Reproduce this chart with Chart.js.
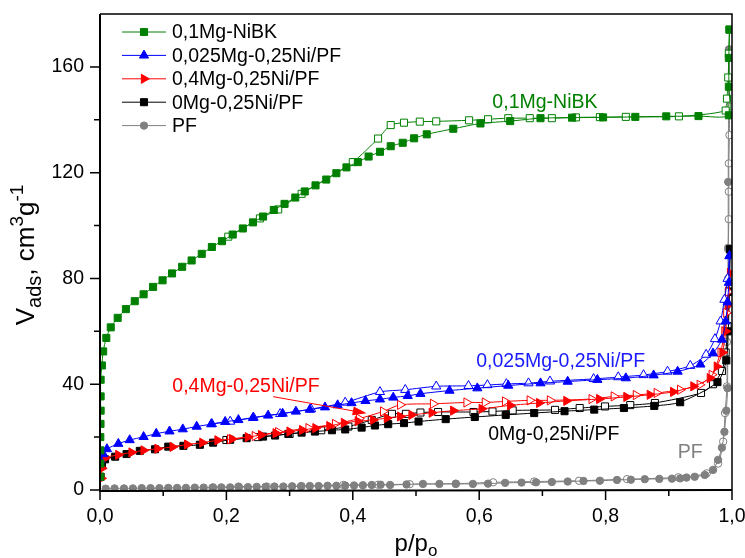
<!DOCTYPE html>
<html>
<head>
<meta charset="utf-8">
<script src="https://cdn.jsdelivr.net/npm/chart.js"></script>
<style>
  html, body { margin: 0; padding: 0; background: #fff; }
</style>
</head>
<body>
<canvas id="c" width="745" height="558"></canvas>
<script>
// Isotherm data (p/p0, V ads cm3/g) – filled = adsorption, open = desorption
const nibkAdsP = [0.0005,0.0005,0.0005,0.0005,0.0008,0.001,0.001,0.001,0.003,0.005,0.010,0.017,0.028,0.041,0.055,0.069,0.084,0.099,0.114,0.130,0.145,0.161,0.177,0.193,0.210,0.226,0.242,0.258,0.275,0.292,0.309,0.324,0.341,0.358,0.374,0.390,0.408,0.425,0.443,0.460,0.479,0.497,0.517,0.559,0.602,0.649,0.697,0.747,0.796,0.847,0.896,0.947,0.995,0.995,0.995,0.996];
const nibkAdsV = [5,10,15,20,25,30,35.4,41.7,47.1,52.4,57.5,61.5,65.1,68.4,71.4,74.0,76.8,79.3,81.9,84.4,86.8,89.3,91.9,94.1,96.6,98.9,101.2,103.4,105.9,108.2,110.6,112.9,115.2,117.4,119.8,122.0,124.0,126.1,127.9,130.0,131.3,133.0,134.5,136.6,138.6,139.5,140.6,140.8,140.9,141.1,141.3,141.4,141.7,152.5,163.4,174.1];
const nibkDesP = [0.996,0.995,0.994,0.992,0.990,0.916,0.832,0.791,0.753,0.715,0.680,0.646,0.614,0.584,0.532,0.506,0.481,0.460,0.440,0.400,0.319,0.282,0.253,0.203];
const nibkDesV = [174.1,165,156,148,143.5,141.3,141.1,141.0,140.9,140.6,140.6,140.6,140.2,139.8,139.4,139.3,138.9,138.0,132.9,124.0,112.0,106.1,102.7,95.8];

const c025AdsP = [0.000,0.005,0.011,0.029,0.047,0.069,0.089,0.110,0.131,0.153,0.176,0.198,0.219,0.242,0.266,0.289,0.310,0.332,0.356,0.376,0.398,0.420,0.443,0.464,0.487,0.507,0.553,0.597,0.646,0.697,0.740,0.787,0.832,0.876,0.914,0.950,0.970,0.984,0.990,0.993,0.995,0.996];
const c025AdsV = [11.4,13.6,15.5,17.5,18.9,20.1,21.3,22.2,23.0,24.0,24.9,25.8,26.5,27.3,28.2,28.9,29.7,30.4,31.3,32.1,32.9,33.7,34.3,35.0,35.6,36.4,37.6,38.5,39.5,40.4,41.0,41.7,42.3,43.4,44.8,47.5,51.7,56.9,63.8,71.0,78.4,88.5];
const c025DesP = [0.996,0.993,0.988,0.982,0.973,0.959,0.934,0.898,0.860,0.820,0.781,0.712,0.678,0.643,0.613,0.583,0.532,0.483,0.443,0.388,0.334,0.285,0.243,0.206,0.177];
const c025DesV = [88.5,79.9,72.0,63.8,57.1,51.2,47.0,44.8,43.5,42.7,42.0,41.1,40.4,40.1,39.7,39.4,39.2,37.9,37.1,33.1,30.6,28.8,27.4,25.9,25.0];

const c4AdsP = [0.002,0.003,0.008,0.029,0.050,0.069,0.091,0.115,0.138,0.162,0.186,0.209,0.234,0.255,0.278,0.300,0.320,0.341,0.363,0.386,0.408,0.432,0.454,0.475,0.493,0.525,0.559,0.604,0.649,0.695,0.738,0.790,0.833,0.870,0.907,0.939,0.965,0.976,0.985,0.990,0.994,0.997];
const c4AdsV = [4.4,8.2,12.0,13.3,14.2,15.0,15.6,16.3,17.2,17.9,18.8,19.3,20.0,20.8,21.5,22.1,22.7,23.4,24.2,25.4,26.0,26.5,27.2,27.8,28.4,29.2,30.0,30.7,32.0,32.9,33.7,34.4,35.2,36.0,37.1,39.2,42.3,46.7,52.0,60.0,70.0,82.0];
const c4DesP = [0.997,0.994,0.991,0.988,0.982,0.968,0.949,0.918,0.881,0.848,0.813,0.778,0.712,0.680,0.641,0.609,0.580,0.527,0.475,0.448,0.410,0.372,0.330,0.282,0.245,0.206];
const c4DesV = [82.0,75.0,67.0,60.0,52.0,43.6,39.8,37.9,36.7,35.9,35.4,34.4,33.9,33.9,33.5,33.1,33.1,32.6,32.2,29.7,27.0,25.0,23.4,21.9,20.4,19.2];

const c0AdsP = [0.001,0.003,0.008,0.024,0.042,0.063,0.087,0.108,0.132,0.158,0.179,0.206,0.232,0.258,0.277,0.298,0.319,0.340,0.367,0.388,0.414,0.435,0.456,0.481,0.504,0.547,0.593,0.642,0.687,0.735,0.782,0.829,0.877,0.918,0.977,0.991,0.994,0.996,0.997];
const c0AdsV = [5.0,9.5,11.6,12.6,13.6,14.8,15.4,16.4,16.7,17.1,17.9,19.0,19.6,20.2,20.6,21.2,21.7,22.1,22.6,22.9,23.6,24.4,24.9,25.3,25.9,26.8,27.6,28.4,29.1,29.8,30.4,31.0,31.8,33.2,40.8,49.0,60.0,75.0,91.0];
const c0DesP = [0.997,0.995,0.993,0.990,0.984,0.970,0.951,0.878,0.839,0.799,0.759,0.720,0.653,0.621,0.591,0.535,0.507,0.484,0.462,0.430,0.393,0.350,0.300,0.250,0.200];
const c0DesV = [91.0,75.0,62.0,52.0,45.0,40.0,36.7,32.9,32.1,31.6,31.0,30.3,30.1,29.7,29.5,29.5,29.3,28.8,28.8,26.5,24.0,22.6,21.2,20.0,18.9];

const pfAdsP = [0.009,0.023,0.038,0.052,0.066,0.080,0.094,0.108,0.122,0.136,0.150,0.164,0.178,0.192,0.206,0.220,0.234,0.248,0.262,0.276,0.290,0.304,0.318,0.332,0.346,0.360,0.374,0.388,0.402,0.416,0.430,0.444,0.459,0.485,0.511,0.537,0.563,0.590,0.614,0.641,0.667,0.690,0.715,0.740,0.765,0.791,0.818,0.840,0.862,0.885,0.905,0.918,0.928,0.941,0.957,0.970,0.978,0.984,0.988,0.991,0.993,0.993,0.994,0.994,0.995];
const pfAdsV = [0.5,0.6,0.6,0.6,0.7,0.7,0.7,0.8,0.8,0.8,0.9,0.9,0.9,1.0,1.0,1.1,1.1,1.2,1.2,1.3,1.3,1.4,1.4,1.5,1.5,1.6,1.6,1.7,1.7,1.8,1.9,2.0,1.9,2.1,2.3,2.3,2.3,2.3,2.4,2.7,2.8,2.9,3.0,3.2,3.4,3.5,3.8,3.9,4.1,4.2,4.3,4.4,4.7,5.0,5.7,7.6,11.4,16.0,22.0,30.0,38.5,60.0,91.6,116.5,166.6];
const pfDesP = [0.996,0.996,0.996,0.996,0.995,0.995,0.995,0.994,0.994,0.993,0.992,0.992,0.989,0.986,0.978,0.960,0.915,0.834,0.758,0.687,0.622,0.563,0.490,0.440,0.385,0.319,0.264,0.219,0.179];
const pfDesV = [166.6,155.7,145.0,134.2,123.5,112.8,102.4,91.0,80.0,70.0,56.0,39.2,29.1,18.3,10.0,6.3,4.8,4.1,3.5,3.2,2.9,2.4,2.2,2.0,1.9,1.5,1.3,1.3,1.0];

const seriesNames = ['0,1Mg-NiBK', '0,025Mg-0,25Ni/PF', '0,4Mg-0,25Ni/PF', '0Mg-0,25Ni/PF', 'PF'];
const xTicks = [0, 0.2, 0.4, 0.6, 0.8, 1.0];
const xMinor = [0.1, 0.3, 0.5, 0.7, 0.9];
const yTicks = [0, 40, 80, 120, 160];
const yMinor = [20, 60, 100, 140];

const FONT = '"Liberation Sans", Arial, sans-serif';
const pts = (xs, ys) => xs.map((v, i) => ({ x: v, y: ys[i] }));

// marker looks per series
const looks = [
  { color: '#008000', style: 'rect', radius: 5, rot: 0 },
  { color: '#0000ff', style: 'triangle', radius: 5.3, rot: 0 },
  { color: '#ff0000', style: 'triangle', radius: 5.3, rot: 90 },
  { color: '#000000', style: 'rect', radius: 5, rot: 0 },
  { color: '#808080', style: 'circle', radius: 3.7, rot: 0 }
];

function ds(i, data, open) {
  const lk = looks[i];
  return {
    label: seriesNames[i] + (open ? ' des' : ''),
    data,
    borderColor: lk.color,
    borderWidth: 1,
    backgroundColor: open ? '#ffffff' : lk.color,
    pointBackgroundColor: open ? '#ffffff' : lk.color,
    pointBorderColor: lk.color,
    pointBorderWidth: 1,
    pointStyle: lk.style,
    pointRotation: lk.rot,
    pointRadius: lk.radius,
    pointHoverRadius: lk.radius,
    tension: 0.25,
    fill: false
  };
}

const datasets = [
  ds(0, pts(nibkAdsP, nibkAdsV), false),
  ds(0, pts(nibkDesP, nibkDesV), true),
  ds(1, pts(c025AdsP, c025AdsV), false),
  ds(1, pts(c025DesP, c025DesV), true),
  ds(2, pts(c4AdsP, c4AdsV), false),
  ds(2, pts(c4DesP, c4DesV), true),
  ds(3, pts(c0AdsP, c0AdsV), false),
  ds(3, pts(c0DesP, c0DesV), true),
  ds(4, pts(pfAdsP, pfAdsV), false),
  ds(4, pts(pfDesP, pfDesV), true)
];

function runs(ctx, parts) {
  let w = 0;
  parts.forEach(p => { ctx.font = p.size + 'px ' + FONT; p.w = ctx.measureText(p.t).width; w += p.w; });
  return w;
}
function drawRuns(ctx, parts, x, y) {
  let cx = x;
  parts.forEach(p => { ctx.font = p.size + 'px ' + FONT; ctx.fillText(p.t, cx, y + (p.dy || 0)); cx += p.w; });
}

const decor = {
  id: 'decor',
  afterDraw(chart) {
    const { ctx, chartArea: a, scales: { x, y } } = chart;
    ctx.save();
    ctx.strokeStyle = '#000';
    ctx.fillStyle = '#000';

    // frame
    ctx.lineWidth = 1.5;
    ctx.beginPath(); ctx.moveTo(a.left, a.top); ctx.lineTo(a.right, a.top); ctx.lineTo(a.right, a.bottom); ctx.stroke();
    ctx.lineWidth = 2;
    ctx.beginPath(); ctx.moveTo(a.left, a.top); ctx.lineTo(a.left, a.bottom + 1); ctx.lineTo(a.right, a.bottom); ctx.stroke();

    // ticks
    ctx.lineWidth = 1.5;
    ctx.beginPath();
    xTicks.forEach(v => { const px = x.getPixelForValue(v); ctx.moveTo(px, a.bottom); ctx.lineTo(px, a.bottom + 10); });
    xMinor.forEach(v => { const px = x.getPixelForValue(v); ctx.moveTo(px, a.bottom); ctx.lineTo(px, a.bottom + 6); });
    yTicks.forEach(v => { const py = y.getPixelForValue(v); ctx.moveTo(a.left, py); ctx.lineTo(a.left - 10, py); });
    yMinor.forEach(v => { const py = y.getPixelForValue(v); ctx.moveTo(a.left, py); ctx.lineTo(a.left - 6, py); });
    ctx.stroke();

    ctx.font = '19.5px ' + FONT;
    ctx.textBaseline = 'middle';
    ctx.textAlign = 'center';
    xTicks.forEach(v => ctx.fillText(v.toFixed(1).replace('.', ','), x.getPixelForValue(v), a.bottom + 27));
    ctx.textAlign = 'right';
    yTicks.forEach(v => ctx.fillText(String(v), a.left - 16, y.getPixelForValue(v)));

    // axis titles
    ctx.textAlign = 'left';
    ctx.textBaseline = 'alphabetic';
    const xt = [{ t: 'p/p', size: 24 }, { t: 'o', size: 17, dy: 5 }];
    const xw = runs(ctx, xt);
    drawRuns(ctx, xt, (a.left + a.right) / 2 - xw / 2, 551);

    const yt = [{ t: 'V', size: 26 }, { t: 'ads', size: 20, dy: 7 }, { t: ', cm', size: 26 },
                { t: '3', size: 19, dy: -11 }, { t: 'g', size: 26 }, { t: '-1', size: 19, dy: -11 }];
    const yw = runs(ctx, yt);
    ctx.save();
    ctx.translate(34, 255);
    ctx.rotate(-Math.PI / 2);
    drawRuns(ctx, yt, -yw / 2, 0);
    ctx.restore();

    // legend
    ctx.textBaseline = 'middle';
    ctx.font = '19.5px ' + FONT;
    seriesNames.forEach((name, i) => {
      const lk = looks[i];
      const ly = 32 + i * 23.4;
      ctx.strokeStyle = lk.color;
      ctx.lineWidth = 1;
      ctx.beginPath(); ctx.moveTo(122, ly); ctx.lineTo(166, ly); ctx.stroke();
      ctx.fillStyle = lk.color;
      Chart.helpers.drawPoint(ctx, { pointStyle: lk.style, rotation: lk.rot, radius: lk.radius, borderWidth: 1 }, 144, ly);
      ctx.fillStyle = '#000';
      ctx.fillText(name, 172, ly + 1);
    });

    // in-plot labels
    ctx.textAlign = 'center';
    const labels = [
      { t: seriesNames[0], c: '#008000', x: 0.704, y: 146.5 },
      { t: seriesNames[1], c: '#1a1aff', x: 0.729, y: 48.5 },
      { t: seriesNames[2], c: '#ff0000', x: 0.231, y: 39.0 },
      { t: seriesNames[3], c: '#000000', x: 0.718, y: 21.0 },
      { t: seriesNames[4], c: '#808080', x: 0.934, y: 14.0 }
    ];
    labels.forEach(l => {
      ctx.fillStyle = l.c;
      ctx.fillText(l.t, x.getPixelForValue(l.x), y.getPixelForValue(l.y));
    });

    // red arrow to the 0,4Mg curve
    const x0 = x.getPixelForValue(0.274), y0 = y.getPixelForValue(35.3);
    const x1 = x.getPixelForValue(0.422), y1 = y.getPixelForValue(29.0);
    const ang = Math.atan2(y1 - y0, x1 - x0);
    ctx.strokeStyle = '#ff0000';
    ctx.fillStyle = '#ff0000';
    ctx.lineWidth = 1;
    ctx.beginPath(); ctx.moveTo(x0, y0); ctx.lineTo(x1 - 12 * Math.cos(ang), y1 - 12 * Math.sin(ang)); ctx.stroke();
    ctx.beginPath();
    ctx.moveTo(x1, y1);
    ctx.lineTo(x1 - 14 * Math.cos(ang) + 4.5 * Math.sin(ang), y1 - 14 * Math.sin(ang) - 4.5 * Math.cos(ang));
    ctx.lineTo(x1 - 14 * Math.cos(ang) - 4.5 * Math.sin(ang), y1 - 14 * Math.sin(ang) + 4.5 * Math.cos(ang));
    ctx.closePath(); ctx.fill();

    ctx.restore();
  }
};

new Chart(document.getElementById('c'), {
  type: 'line',
  data: { datasets },
  options: {
    responsive: false,
    animation: false,
    devicePixelRatio: 1,
    layout: { padding: { left: 100, right: 13, top: 14, bottom: 68 } },
    plugins: { legend: { display: false }, tooltip: { enabled: false } },
    scales: {
      x: { type: 'linear', min: 0, max: 1.0, display: false },
      y: { type: 'linear', min: 0, max: 180, display: false }
    }
  },
  plugins: [decor]
});
</script>
</body>
</html>
